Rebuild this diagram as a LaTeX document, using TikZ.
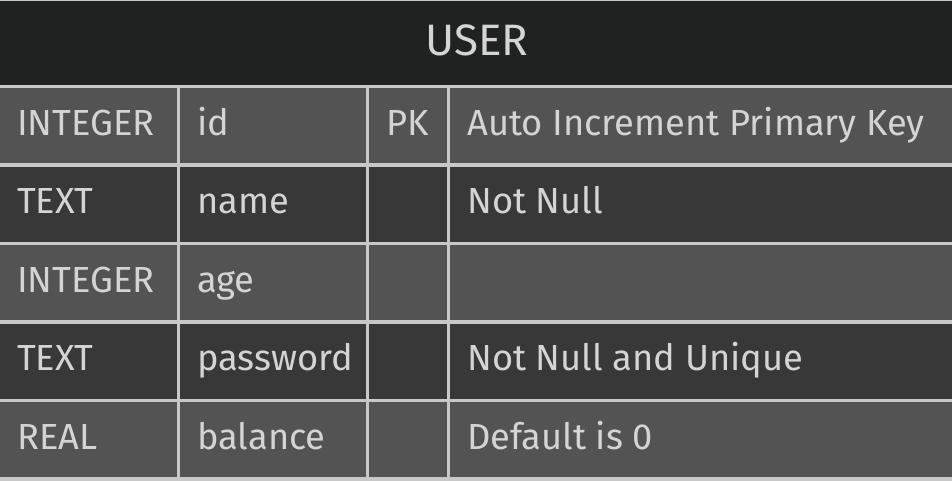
\documentclass[tikz,border=0pt]{standalone}
\usepackage{fontspec}
\setmainfont{Fira Sans}
\usetikzlibrary{positioning}

\definecolor{headbg}{HTML}{202221}
\definecolor{rowlight}{HTML}{535353}
\definecolor{rowdark}{HTML}{383838}
\definecolor{gridline}{HTML}{C8C8C8}
\definecolor{celltext}{HTML}{D4D4D4}

\tikzset{
    cell/.style={anchor=base west, inner sep=0pt, text=celltext,
        font=\fontsize{36.3}{40}\selectfont},
    headcell/.style={anchor=base, inner sep=0pt, text=celltext,
        font=\fontsize{44}{48}\selectfont},
    grid/.style={draw=gridline, line width=3.3pt}
}

\begin{document}
\begin{tikzpicture}[x=1pt, y=-1pt]
    \useasboundingbox (0,0) rectangle (952,480);

    % header and row stripes
    \fill[headbg] (0,0) rectangle (952,86.5);
    \foreach \r/\c in {0/rowlight, 1/rowdark, 2/rowlight, 3/rowdark, 4/rowlight}
        \fill[\c] (0,86.5+78.5*\r) rectangle (952,165+78.5*\r);

    % grid lines
    \draw[gridline, line width=1pt] (0,0.5) -- (952,0.5);
    \foreach \y in {86.5, 165, 243.5, 322, 400.5, 479}
        \draw[grid] (0,\y) -- (952,\y);
    \foreach \x in {178.5, 367.5, 448.5}
        \draw[grid] (\x,86.5) -- (\x,480);

    \node[headcell] (title) at (477,55) {USER};

    % row 1
    \node[cell] (type1) at (17,135) {INTEGER};
    \node[cell] (name1) at (197,135) {id};
    \node[cell] (key1) at (386,135) {PK};
    \node[cell] (note1) at (467,135) {Auto Increment Primary Key};
    % row 2
    \node[cell] (type2) at (17,213.5) {TEXT};
    \node[cell] (name2) at (197,213.5) {name};
    \node[cell] (note2) at (467,213.5) {Not Null};
    % row 3
    \node[cell] (type3) at (17,292) {INTEGER};
    \node[cell] (name3) at (197,292) {age};
    % row 4
    \node[cell] (type4) at (17,370.5) {TEXT};
    \node[cell] (name4) at (197,370.5) {password};
    \node[cell] (note4) at (467,370.5) {Not Null and Unique};
    % row 5
    \node[cell] (type5) at (17,449) {REAL};
    \node[cell] (name5) at (197,449) {balance};
    \node[cell] (note5) at (467,449) {Default is 0};
\end{tikzpicture}
\end{document}
